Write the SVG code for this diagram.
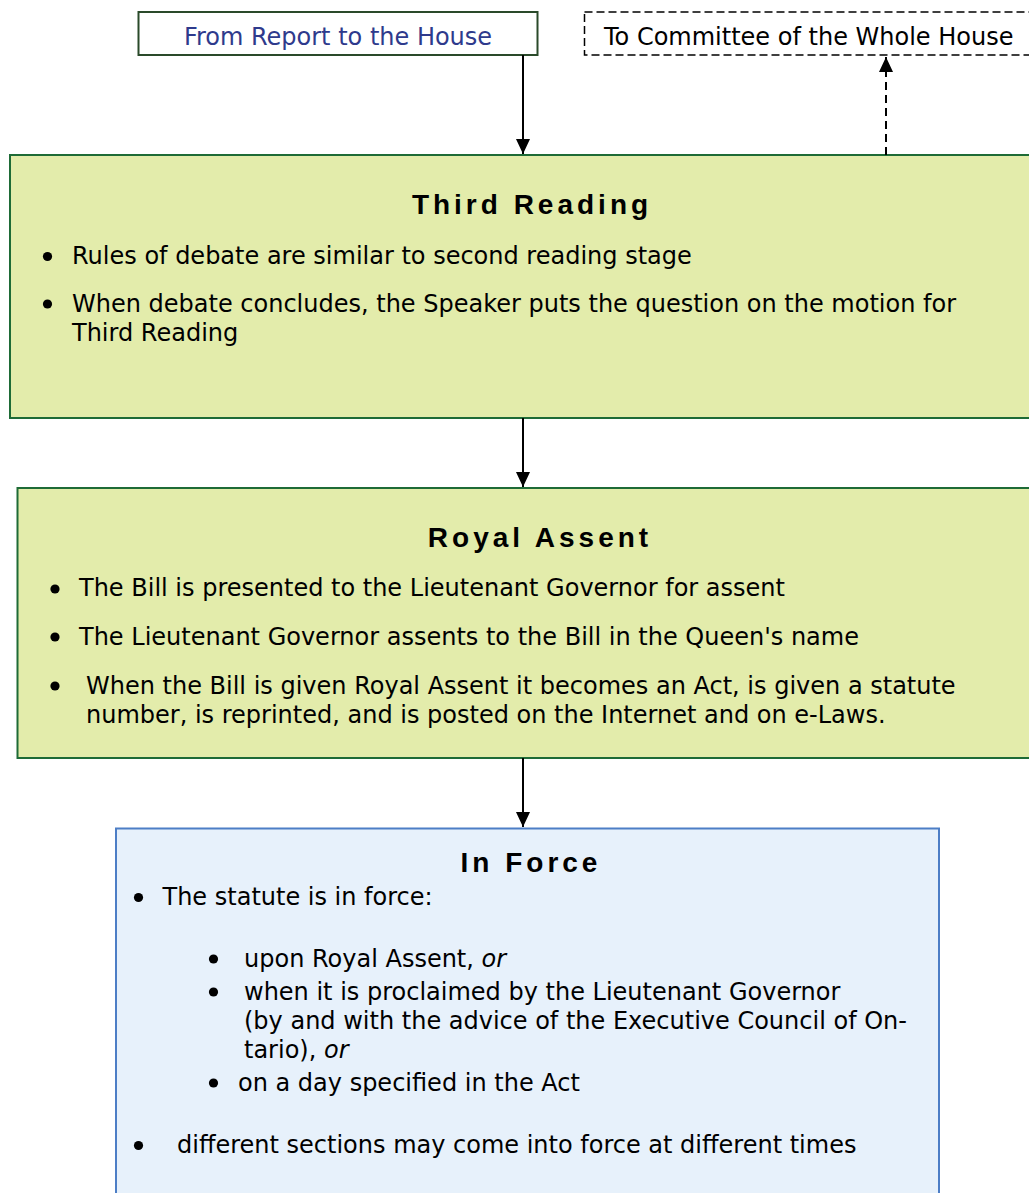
<svg xmlns="http://www.w3.org/2000/svg" width="1029" height="1193" viewBox="0 0 1029 1193">
<defs>
<style>
.body{font-family:"DejaVu Sans",Verdana,sans-serif;font-size:24px;fill:#000}
.title{font-family:"Liberation Sans",Arial,sans-serif;font-size:28px;font-weight:bold;letter-spacing:4px;fill:#000;text-anchor:middle}
.green{fill:#e3ecab;stroke:#1e6b36;stroke-width:2}
.blue{fill:#e7f1fb;stroke:#4d7ec6;stroke-width:2}
.dot{fill:#000}
.conn{stroke:#000;stroke-width:2;fill:none}
</style>
<marker id="arr" viewBox="0 0 15 14" refX="15" refY="7" markerWidth="15" markerHeight="14" markerUnits="userSpaceOnUse" orient="auto">
<path d="M0,0 L15,7 L0,14 Z" fill="#000"/>
</marker>
</defs>
<rect width="1029" height="1193" fill="#fff"/>

<g id="from-report">
<rect x="138.5" y="12" width="399" height="43" fill="#fff" stroke="#2a4a2a" stroke-width="2"/>
<text class="body" x="338" y="45" text-anchor="middle" style="fill:#2e3a8c">From Report to the House</text>
</g>

<g id="to-committee">
<rect x="584.5" y="12" width="460" height="43" fill="#fff" stroke="#000" stroke-width="1.5" stroke-dasharray="8,4"/>
<text class="body" x="604" y="45">To Committee of the Whole House</text>
</g>

<g id="third-reading">
<rect class="green" x="10" y="155" width="1030" height="263"/>
<text class="title" x="532" y="214">Third Reading</text>
<circle class="dot" cx="47.5" cy="256.5" r="4.6"/>
<text class="body" x="72" y="264">Rules of debate are similar to second reading stage</text>
<circle class="dot" cx="47.5" cy="304" r="4.6"/>
<text class="body" x="72" y="311.5">When debate concludes, the Speaker puts the question on the motion for</text>
<text class="body" x="72" y="340.5">Third Reading</text>
</g>

<g id="royal-assent">
<rect class="green" x="17.5" y="488" width="1030" height="270"/>
<text class="title" x="540" y="547">Royal Assent</text>
<circle class="dot" cx="55" cy="589" r="4.6"/>
<text class="body" x="79" y="596">The Bill is presented to the Lieutenant Governor for assent</text>
<circle class="dot" cx="55" cy="637" r="4.6"/>
<text class="body" x="79" y="644.5">The Lieutenant Governor assents to the Bill in the Queen's name</text>
<circle class="dot" cx="55" cy="686" r="4.6"/>
<text class="body" x="86" y="693.5">When the Bill is given Royal Assent it becomes an Act, is given a statute</text>
<text class="body" x="86" y="722.5">number, is reprinted, and is posted on the Internet and on e-Laws.</text>
</g>

<g id="in-force">
<rect class="blue" x="116" y="828.5" width="823" height="400"/>
<text class="title" x="531" y="872">In Force</text>
<circle class="dot" cx="138.5" cy="897.5" r="4.6"/>
<text class="body" x="162.5" y="905">The statute is in force:</text>
<circle class="dot" cx="213.5" cy="959" r="4.6"/>
<text class="body" x="244" y="966.5">upon Royal Assent, <tspan font-style="italic">or</tspan></text>
<circle class="dot" cx="213.5" cy="992" r="4.6"/>
<text class="body" x="244" y="1000">when it is proclaimed by the Lieutenant Governor</text>
<text class="body" x="244" y="1029">(by and with the advice of the Executive Council of On-</text>
<text class="body" x="244" y="1058">tario), <tspan font-style="italic">or</tspan></text>
<circle class="dot" cx="213.5" cy="1083" r="4.6"/>
<text class="body" x="238" y="1090.5">on a day specified in the Act</text>
<circle class="dot" cx="138.5" cy="1145.5" r="4.6"/>
<text class="body" x="177" y="1152.5">different sections may come into force at different times</text>
</g>

<g id="connectors">
<line class="conn" x1="523" y1="55" x2="523" y2="154" marker-end="url(#arr)"/>
<line class="conn" x1="523" y1="418" x2="523" y2="487" marker-end="url(#arr)"/>
<line class="conn" x1="523" y1="758" x2="523" y2="827" marker-end="url(#arr)"/>
<line class="conn" x1="886" y1="155" x2="886" y2="57" stroke-dasharray="8,5" marker-end="url(#arr)"/>
</g>
</svg>
